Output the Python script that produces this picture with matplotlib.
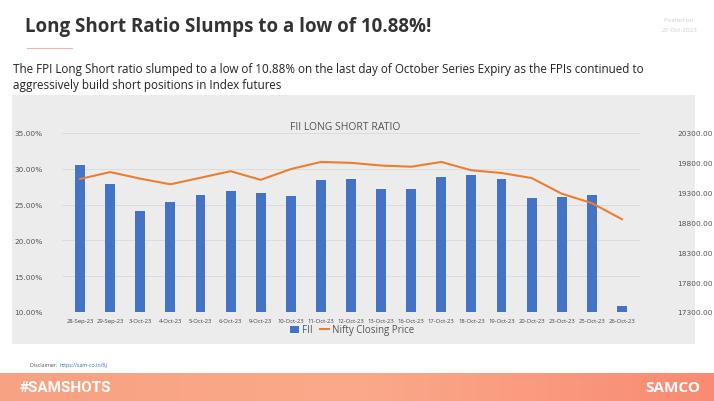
import matplotlib
matplotlib.use("Agg")
import matplotlib.pyplot as plt
import numpy as np
from matplotlib.patches import Rectangle
from matplotlib.ticker import FuncFormatter
from matplotlib.colors import LinearSegmentedColormap

dates = ["28-Sep-23","29-Sep-23","3-Oct-23","4-Oct-23","5-Oct-23","6-Oct-23","9-Oct-23",
         "10-Oct-23","11-Oct-23","12-Oct-23","13-Oct-23","16-Oct-23","17-Oct-23","18-Oct-23",
         "19-Oct-23","20-Oct-23","23-Oct-23","25-Oct-23","26-Oct-23"]
fii = [30.6, 27.9, 24.1, 25.4, 26.4, 26.9, 26.6, 26.2, 28.5, 28.6, 27.2, 27.2, 28.9, 29.2,
       28.6, 25.9, 26.1, 26.3, 10.88]
nifty = [19530, 19645, 19535, 19440, 19550, 19660, 19515, 19695, 19815, 19800, 19755, 19735,
         19815, 19675, 19630, 19545, 19283, 19125, 18855]
left_ticks = [10, 15, 20, 25, 30, 35]
right_ticks = [17300, 17800, 18300, 18800, 19300, 19800, 20300]

W, H = 714, 402
fig = plt.figure(figsize=(W/100, H/100), dpi=100)
fig.patch.set_facecolor("white")
font = "Open Sans"

def fx(px): return px / W
def fy(py): return 1 - py / H

# header
fig.text(fx(25), fy(27), "Long Short Ratio Slumps to a low of 10.88%!", fontsize=13.5,
         fontweight="bold", color="#333333", family=font, va="center")
fig.add_artist(plt.Line2D([fx(27), fx(72)], [fy(49), fy(49)], color="#e8b8b0", lw=0.8))
fig.text(fx(693), fy(20), "Posted on", fontsize=4.5, color="#cccccc", ha="right", va="center", family=font)
fig.text(fx(697), fy(30), "27-Oct-2023", fontsize=4.5, color="#cccccc", ha="right", va="center", family=font)
fig.text(fx(13), fy(70), "The FPI Long Short ratio slumped to a low of 10.88% on the last day of October Series Expiry as the FPIs continued to",
         fontsize=8.4, color="#222222", va="center", family=font)
fig.text(fx(13), fy(86), "aggressively build short positions in Index futures",
         fontsize=8.4, color="#222222", va="center", family=font)

# grey panel
fig.add_artist(Rectangle((fx(12), fy(345)), fx(683), (345-96)/H, transform=fig.transFigure,
                         facecolor="#ececec", edgecolor="none", zorder=0))

ax = fig.add_axes([fx(62), fy(313), fx(640-62), (313-134)/H])
ax.set_facecolor("none")
x = np.arange(len(dates))
ax.bar(x, np.array(fii) - 10, bottom=10, width=0.33, color="#4472c4", label="FII", zorder=2)
ax.set_ylim(10, 35)
ax.set_yticks(left_ticks)
ax.yaxis.set_major_formatter(FuncFormatter(lambda v, p: f"{v:.2f}%"))
ax.set_xlim(-0.6, len(dates) - 0.4)
ax.set_xticks(x)
ax.set_xticklabels(dates, fontsize=4.2, color="#444444", family=font)
ax.tick_params(axis="y", labelsize=5.3, labelcolor="#555555", length=0, pad=14)
ax.tick_params(axis="x", length=0, pad=4)
ax.grid(axis="y", color="#d9d9d9", lw=0.6, zorder=0)
for s in ax.spines.values():
    s.set_visible(False)

ax2 = ax.twinx()
ax2.plot(x, nifty, color="#ed7d31", lw=1.5, label="Nifty Closing Price", zorder=3)
ax2.set_ylim(17300, 20300)
ax2.set_yticks(right_ticks)
ax2.yaxis.set_major_formatter(FuncFormatter(lambda v, p: f"{v:.2f}"))
ax2.tick_params(axis="y", labelsize=5.3, labelcolor="#555555", length=0, pad=27)
for s in ax2.spines.values():
    s.set_visible(False)

fig.text(fx(345), fy(128), "FII LONG SHORT RATIO", fontsize=7.5, color="#555555", ha="center",
         va="center", family=font)
h1, l1 = ax.get_legend_handles_labels()
h2, l2 = ax2.get_legend_handles_labels()
fig.legend(h1 + h2, l1 + l2, loc="center", bbox_to_anchor=(fx(352), fy(331)), ncol=2, frameon=False,
           prop={"family": font, "size": 7}, labelcolor="#555555", handlelength=0.9,
           handletextpad=0.3, columnspacing=0.8)

fig.text(fx(30), fy(366), "Disclaimer: ", fontsize=3.8, color="#555555", va="center", family=font)
fig.text(fx(59), fy(366), "https://sam-co.in/6j", fontsize=3.8, color="#3366bb", va="center", family=font)

# footer gradient
grad = np.linspace(0, 1, 256).reshape(1, -1)
fax = fig.add_axes([0, 0, 1, (402-374)/H])
cmap = LinearSegmentedColormap.from_list("g", ["#f7a282", "#fba98a", "#f98b72"])
fax.imshow(grad, aspect="auto", cmap=cmap, extent=[0, 1, 0, 1])
fax.axis("off")
fig.text(fx(20), fy(388), "#SAMSHOTS", fontsize=11, fontweight="bold", color="white", va="center",
         family="Roboto")
fig.text(fx(700), fy(388), "SAMCO", fontsize=11, fontweight="bold", color="white", va="center",
         ha="right", family=font)

fig.savefig("out.png", dpi=100)
